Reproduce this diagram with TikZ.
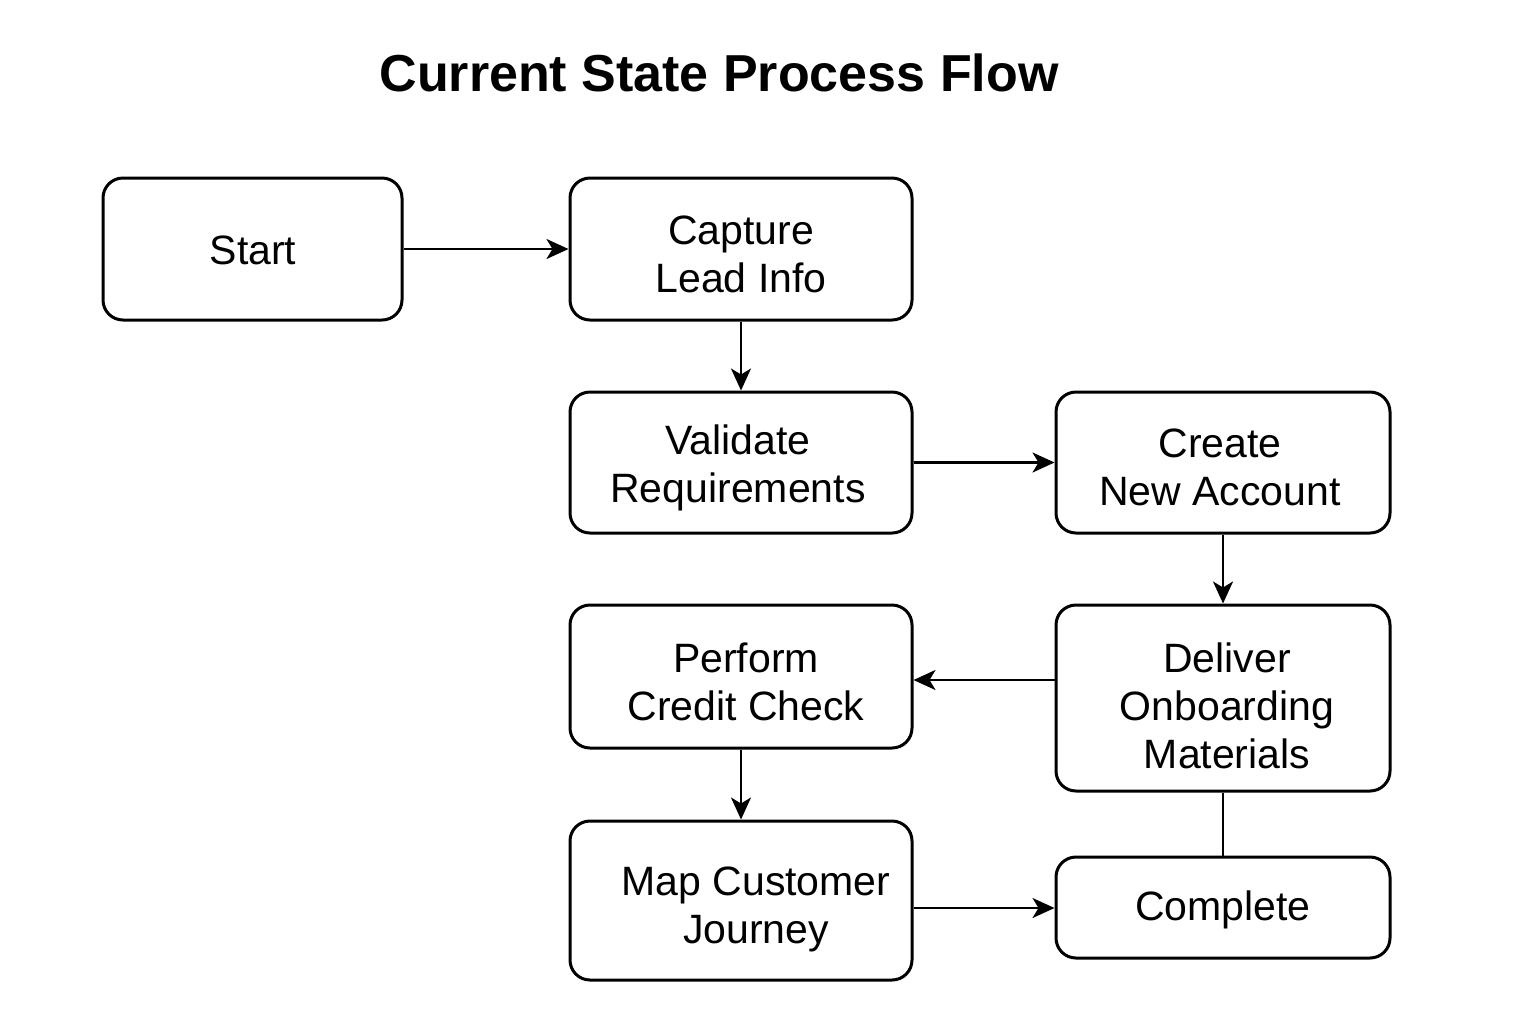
\documentclass[tikz,border=0pt]{standalone}
\usepackage{fontspec}
\setmainfont{Liberation Sans}
\usetikzlibrary{arrows.meta}
\begin{document}
\begin{tikzpicture}[x=0.5pt,y=-0.5pt,
  box/.style={draw=black, line width=1.5pt, rounded corners=10pt, fill=white, inner sep=0pt},
  txt/.style={align=center, font=\fontsize{20.5pt}{24pt}\selectfont, inner sep=0pt},
  arr/.style={line width=1.2pt, -{Stealth[length=11pt,width=10pt,inset=3pt]}},
  conn/.style={line width=1.2pt}]
\useasboundingbox[fill=white] (0,0) rectangle (1536,1024);
\node[font=\bfseries\fontsize{26pt}{30pt}\selectfont, inner sep=0pt] (title) at (719,73) {Current State Process Flow};
% boxes
\node[box, minimum width=149.5pt, minimum height=71pt] (start) at (252.5,249) {};
\node[box, minimum width=171pt, minimum height=71pt] (capture) at (741,249) {};
\node[box, minimum width=171pt, minimum height=70.5pt] (validate) at (741,462.5) {};
\node[box, minimum width=167pt, minimum height=70.5pt] (create) at (1223,462.5) {};
\node[box, minimum width=171pt, minimum height=71.5pt] (perform) at (741,676.5) {};
\node[box, minimum width=167pt, minimum height=93pt] (deliver) at (1223,698) {};
\node[box, minimum width=171pt, minimum height=79.5pt] (map) at (741,900.5) {};
\node[box, minimum width=167pt, minimum height=50.5pt] (complete) at (1223,907.5) {};
% texts
\node[txt] (startT) at (253,250) {Start};
\node[txt] (captureT) at (741,254) {Capture\\Lead Info};
\node[txt] (validateT) at (738,468) {Validate\\Requirements};
\node[txt] (createT) at (1220,467) {Create\\New Account};
\node[txt] (performT) at (746,682) {Perform\\Credit Check};
\node[txt] (deliverT) at (1227,706) {Deliver\\Onboarding\\Materials};
\node[txt] (mapT) at (756,909) {Map Customer\\Journey};
\node[txt] (completeT) at (1223,910) {Complete};
% connectors
\draw[arr] (start.east) -- (capture.west);
\draw[arr] (capture.south) -- (validate.north);
\draw[arr] (validate.east) -- (create.west);
\draw[arr] (create.south) -- (deliver.north);
\draw[arr] (deliver.west |- 0,680) -- (perform.east |- 0,680);
\draw[arr] (perform.south) -- (map.north);
\draw[arr] (map.east |- 0,908) -- (complete.west |- 0,908);
\draw[conn] (deliver.south) -- (complete.north);
\end{tikzpicture}
\end{document}
